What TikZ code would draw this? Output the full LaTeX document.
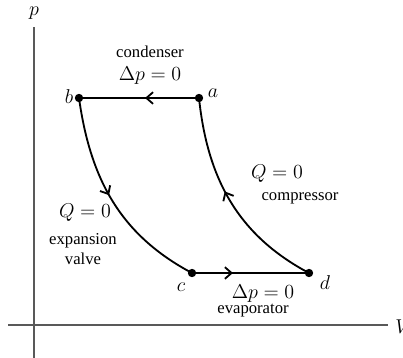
\documentclass[tikz,border=0pt]{standalone}
\usepackage{fontspec}
\setmainfont{Liberation Serif}
\usetikzlibrary{arrows.meta,decorations.markings}

\begin{document}
\begin{tikzpicture}[x=0.6pt, y=-0.6pt,
  dot/.style={circle, fill=black, inner sep=0pt, minimum size=5pt},
  path/.style={line width=1.1pt},
  axis/.style={draw=black!65, line width=0.8pt},
  lbl/.style={font=\large},
  txt/.style={font=\normalsize, align=center, inner sep=0pt},
  midarrow/.style={postaction={decorate}, decoration={markings,
    mark=at position #1 with {\arrow{Straight Barb[length=4pt,width=7pt]}}}}]
\useasboundingbox (0,0) rectangle (403,358);
% ----- axes -----
\draw[axis] (34,27) -- (34,358);
\draw[axis] (8,325) -- (388,325);
\node[lbl, inner sep=0pt] (plab) at (34,13) {$p$};
\node[lbl, inner sep=0pt, anchor=west] (vlab) at (395,327) {$V$};
% ----- cycle states -----
\node[dot] (a) at (199,98) {};
\node[dot] (b) at (79,98) {};
\node[dot] (c) at (192,273) {};
\node[dot] (d) at (309,273) {};
\node[lbl, inner sep=0pt] at (213,93) {$a$};
\node[lbl, inner sep=0pt] at (69,97) {$b$};
\node[lbl, inner sep=0pt] at (181,287) {$c$};
\node[lbl, inner sep=0pt] at (325,283) {$d$};
% ----- processes -----
\draw[path, midarrow=0.45] (a.center) -- (b.center);
\draw[path, midarrow=0.47] (b.center) to[out=-82, in=152] (c.center);
\draw[path, midarrow=0.35] (c.center) -- (d.center);
\draw[path, midarrow=0.55] (d.center) to[out=152, in=-84] (a.center);
% ----- labels -----
\node[txt] at (150,52) {condenser};
\node[lbl] at (150,76) {$\Delta p = 0$};
\node[lbl] at (85,213) {$Q = 0$};
\node[txt] at (83,249) {expansion\\valve};
\node[lbl] at (277,174) {$Q = 0$};
\node[txt] at (300,198) {compressor};
\node[lbl] at (263,294) {$\Delta p = 0$};
\node[txt] at (253,311) {evaporator};
\end{tikzpicture}
\end{document}
